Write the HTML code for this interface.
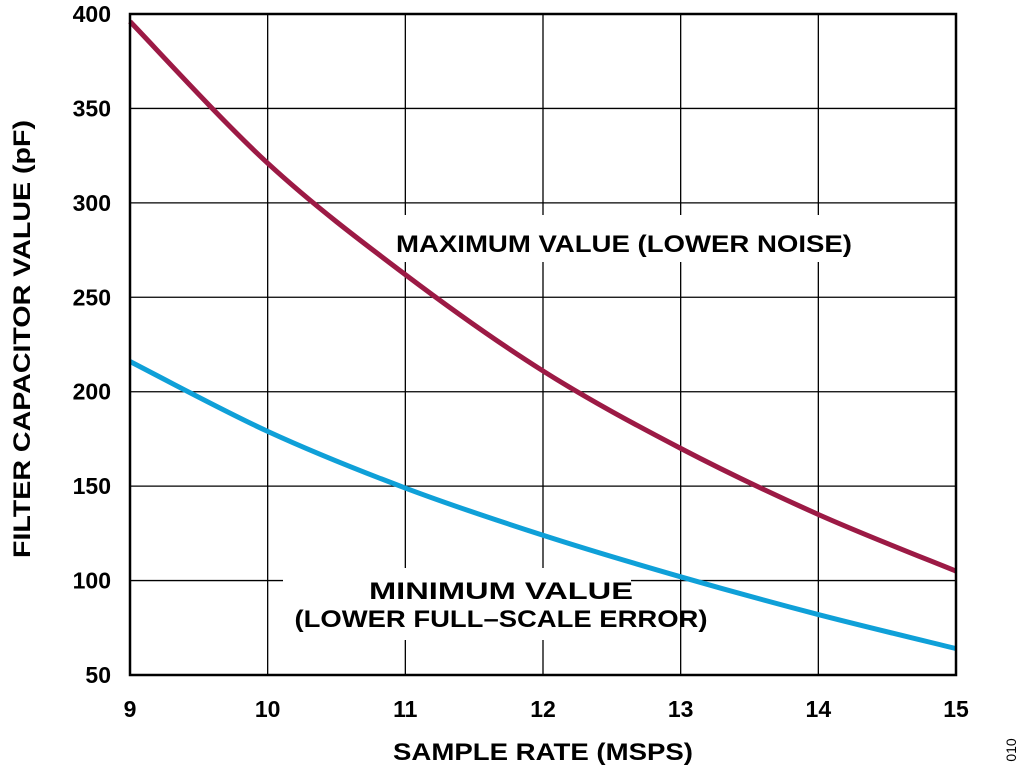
<!DOCTYPE html>
<html><head><meta charset="utf-8"><style>
html,body{margin:0;padding:0;background:#fff;}
svg{display:block;font-family:"Liberation Sans",Arial,sans-serif;font-weight:bold;}
</style></head><body>
<svg id="chart" width="1024" height="776" viewBox="0 0 1024 776" xmlns="http://www.w3.org/2000/svg">
<g id="grid"></g>
<g id="labels-bg">
  <rect x="384" y="215" width="472" height="47" fill="#fff"/>
  <rect x="283" y="568" width="348" height="72" fill="#fff"/>
</g>
<g id="series"></g>
<rect x="130" y="14" width="826" height="661" fill="none" stroke="#000" stroke-width="2.5"/>
<g id="ticks"></g>
<text x="396" y="252" font-size="24" textLength="456" lengthAdjust="spacingAndGlyphs">MAXIMUM VALUE (LOWER NOISE)</text>
<text x="501" y="599" font-size="24" text-anchor="middle" textLength="264" lengthAdjust="spacingAndGlyphs">MINIMUM VALUE</text>
<text x="501" y="627" font-size="24" text-anchor="middle" textLength="413" lengthAdjust="spacingAndGlyphs">(LOWER FULL–SCALE ERROR)</text>
<text x="543" y="760" font-size="24" text-anchor="middle" textLength="300" lengthAdjust="spacingAndGlyphs">SAMPLE RATE (MSPS)</text>
<text transform="translate(30,339) rotate(-90)" font-size="24" text-anchor="middle" textLength="438" lengthAdjust="spacingAndGlyphs">FILTER CAPACITOR VALUE (pF)</text>
<text transform="translate(1016,750) rotate(-90)" font-size="14" font-weight="normal" text-anchor="middle">010</text>
</svg>
<script>
const xTicks = [9,10,11,12,13,14,15];
const yTicks = [50,100,150,200,250,300,350,400];
const sampleRate = [9,10,11,12,13,14,15];
const maxValue = [396,321,262,211,170,135,105];
const minValue = [216,179,149,124,102,82,64];
const NS="http://www.w3.org/2000/svg";
const X0=130,X1=956,Y0=675,Y1=14;
function xs(v){return X0+(v-9)/(15-9)*(X1-X0);}
function ys(v){return Y0-(v-50)/(400-50)*(Y0-Y1);}
const grid=document.getElementById('grid'), ticks=document.getElementById('ticks'), series=document.getElementById('series');
xTicks.forEach(t=>{
  const l=document.createElementNS(NS,'line');
  l.setAttribute('x1',xs(t));l.setAttribute('x2',xs(t));l.setAttribute('y1',Y1);l.setAttribute('y2',Y0);
  l.setAttribute('stroke','#000');l.setAttribute('stroke-width','1.3');
  
  
  grid.appendChild(l);
  const tx=document.createElementNS(NS,'text');
  tx.setAttribute('x',xs(t));tx.setAttribute('y',717);tx.setAttribute('font-size','23');tx.setAttribute('text-anchor','middle');
  tx.textContent=t;
  
  
  ticks.appendChild(tx);
});
yTicks.forEach(t=>{
  const l=document.createElementNS(NS,'line');
  l.setAttribute('y1',ys(t));l.setAttribute('y2',ys(t));l.setAttribute('x1',X0);l.setAttribute('x2',X1);
  l.setAttribute('stroke','#000');l.setAttribute('stroke-width','1.3');
  
  
  grid.appendChild(l);
  const tx=document.createElementNS(NS,'text');
  tx.setAttribute('x',111);tx.setAttribute('y',ys(t)+8);tx.setAttribute('font-size','23');tx.setAttribute('text-anchor','end');
  tx.textContent=t;
  
  
  ticks.appendChild(tx);
});
function smoothPath(xv,yv){
  const p=xv.map((x,i)=>[xs(x),ys(yv[i])]);
  let d='M'+p[0][0]+','+p[0][1];
  for(let i=0;i<p.length-1;i++){
    const p0=p[Math.max(0,i-1)],p1=p[i],p2=p[i+1],p3=p[Math.min(p.length-1,i+2)];
    const c1=[p1[0]+(p2[0]-p0[0])/6,p1[1]+(p2[1]-p0[1])/6];
    const c2=[p2[0]-(p3[0]-p1[0])/6,p2[1]-(p3[1]-p1[1])/6];
    d+=' C'+c1+' '+c2+' '+p2;
  }
  return d;
}
function addSeries(vals,color,name){
  const path=document.createElementNS(NS,'path');
  path.setAttribute('d',smoothPath(sampleRate,vals));
  path.setAttribute('fill','none');path.setAttribute('stroke',color);path.setAttribute('stroke-width','5');
  
  
  series.appendChild(path);
}
addSeries(maxValue,'#9c1a45','max-value-curve');
addSeries(minValue,'#0fa0d8','min-value-curve');
</script>
</body></html>
